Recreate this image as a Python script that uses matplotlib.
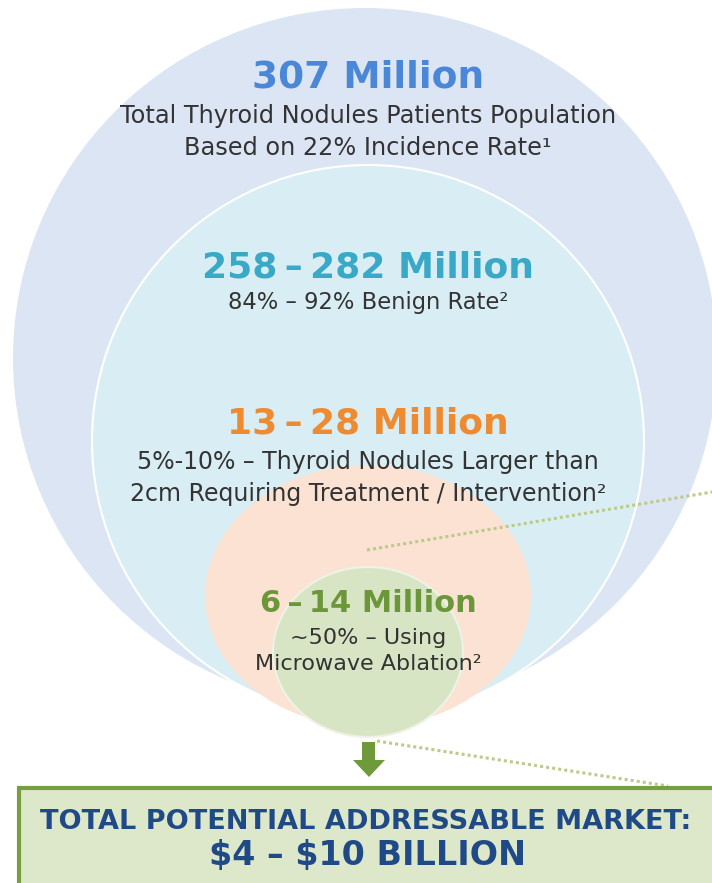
import matplotlib
matplotlib.use("Agg")
import matplotlib.pyplot as plt
from matplotlib.patches import Ellipse, Rectangle, Polygon

# ---- data ----
headlines = ["307 Million", "258\u2009\u2013\u2009282 Million", "13\u2009\u2013\u200928 Million", "6\u2009\u2013\u200914 Million"]
descriptions = [
    "Total Thyroid Nodules Patients Population\nBased on 22% Incidence Rate\u00b9",
    "84% \u2013 92% Benign Rate\u00b2",
    "5%-10% \u2013 Thyroid Nodules Larger than\n2cm Requiring Treatment / Intervention\u00b2",
    "~50% \u2013 Using\nMicrowave Ablation\u00b2",
]
tam_title = "TOTAL POTENTIAL ADDRESSABLE MARKET:"
tam_value = "\\$4 \u2013 \\$10 BILLION"

# ---- style / layout ----
fill_colors = ["#dce5f4", "#d9eef4", "#fbe2d2", "#d8e5c5"]
head_colors = ["#4a87d6", "#39a9c7", "#ee8a2f", "#6b963a"]
# ellipse geometry in pixel coords: (cx, cy, width, height)
shapes = [(365, 358, 704, 700), (368, 441, 552, 552), (368, 596, 326, 262), (368, 652, 190, 170)]
head_y = [77, 267, 424, 604]
desc_y = [132, 302, 478, 651]
head_size = [27, 26, 26, 22]
desc_size = [17.3, 16.3, 17, 16]
desc_ls = [1.45, 1.45, 1.45, 1.42]

W, H = 712, 883
fig = plt.figure(figsize=(W / 100, H / 100), dpi=100)
ax = fig.add_axes([0, 0, 1, 1])
ax.set_xlim(0, W)
ax.set_ylim(H, 0)
ax.axis("off")

font = "DejaVu Sans"
edges = ["none", "white", "none", "#eef3e6"]
for (cx, cy, w, h), fc, ec in zip(shapes, fill_colors, edges):
    ax.add_patch(Ellipse((cx, cy), w, h, facecolor=fc, edgecolor=ec, lw=1.5, zorder=1))

# dotted connector lines
ax.plot([367, 712], [550, 492], ls=(0, (1, 1)), color="#bccb8a", lw=2.2, zorder=2)
ax.plot([377, 668], [741, 786], ls=(0, (1, 1)), color="#bccb8a", lw=2.2, zorder=2)

for i in range(4):
    ax.text(368, head_y[i], headlines[i], ha="center", va="center", fontsize=head_size[i],
            fontweight="bold", color=head_colors[i], family=font, zorder=5)
    ax.text(368, desc_y[i], descriptions[i], ha="center", va="center", fontsize=desc_size[i],
            color="#333333", family=font, linespacing=desc_ls[i], zorder=5)

# arrow
green = "#6f9a3c"
ax.add_patch(Rectangle((362, 742), 13, 19, facecolor=green, edgecolor="none", zorder=4))
ax.add_patch(Polygon([(353, 760), (385, 760), (369, 777)], closed=True, facecolor=green,
                     edgecolor="none", zorder=4))

# TAM box
ax.add_patch(Rectangle((19, 788), 720, 120, facecolor="#dde7c9", edgecolor="#76a040", lw=3, zorder=3))
ax.text(366, 822, tam_title, ha="center", va="center", fontsize=19.5, fontweight="bold",
        color="#1f4a86", family=font, zorder=5)
ax.text(368, 856, tam_value, ha="center", va="center", fontsize=24, fontweight="bold",
        color="#1f4a86", family=font, zorder=5)

fig.savefig("out.png", dpi=100)
